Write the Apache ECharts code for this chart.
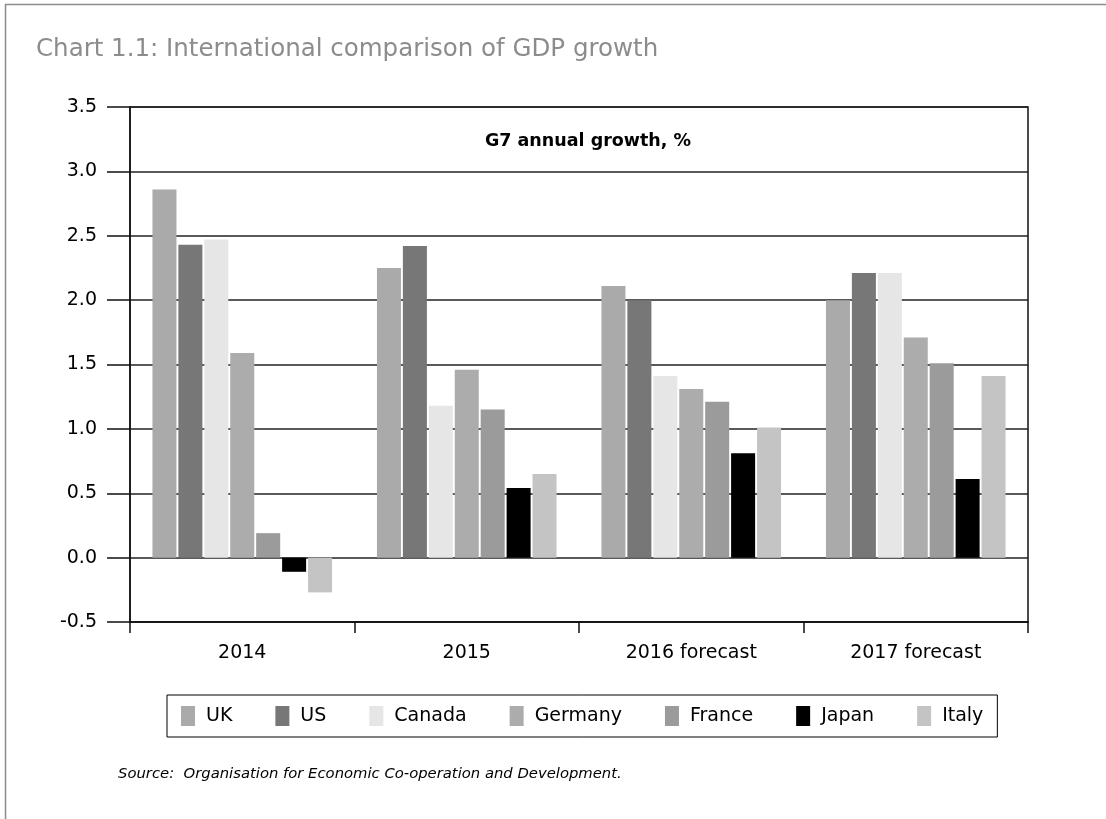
<!DOCTYPE html>
<html>
<head>
<meta charset="utf-8">
<script src="https://cdn.jsdelivr.net/npm/echarts@6/dist/echarts.min.js"></script>
<style>
  html, body { margin: 0; padding: 0; background: #fff; }
  #chart { width: 1106px; height: 819px; }
</style>
</head>
<body>
<div id="chart"></div>
<script>
// Years on the category axis
const categories = ['2014', '2015', '2016 forecast', '2017 forecast'];

// G7 annual GDP growth, %
const uk      = [2.86, 2.25, 2.11, 2.00];
const us      = [2.43, 2.42, 2.00, 2.21];
const canada  = [2.47, 1.18, 1.41, 2.21];
const germany = [1.59, 1.46, 1.31, 1.71];
const france  = [0.19, 1.15, 1.21, 1.51];
const japan   = [-0.11, 0.54, 0.81, 0.61];
const italy   = [-0.27, 0.65, 1.01, 1.41];

const seriesNames = ['UK', 'US', 'Canada', 'Germany', 'France', 'Japan', 'Italy'];
const seriesData = [uk, us, canada, germany, france, japan, italy];
const seriesColors = ['#aaaaaa', '#777777', '#e6e6e6', '#acacac', '#9b9b9b', '#000000', '#c4c4c4'];

const font = '"DejaVu Sans", Verdana, sans-serif';

const chart = echarts.init(document.getElementById('chart'), null, { renderer: 'canvas' });

chart.setOption({
  animation: false,
  backgroundColor: '#ffffff',
  textStyle: { fontFamily: font },
  title: [
    {
      text: 'Chart 1.1: International comparison of GDP growth',
      left: 31, top: 32,
      textStyle: { fontFamily: font, fontSize: 24.5, fontWeight: 'normal', color: '#8c8c8c' }
    },
    {
      text: 'G7 annual growth, %',
      left: 583, top: 127, textAlign: 'center',
      textStyle: { fontFamily: font, fontSize: 17.5, fontWeight: 'bold', color: '#000' }
    },
    {
      text: 'Source:  Organisation for Economic Co-operation and Development.',
      left: 113, top: 762,
      textStyle: { fontFamily: font, fontSize: 14.8, fontWeight: 'normal', fontStyle: 'italic', color: '#000' }
    }
  ],
  graphic: [
    { type: 'line', shape: { x1: 5, y1: 4.5, x2: 1106, y2: 4.5 }, style: { stroke: '#8c8c8c', lineWidth: 1.5 } },
    { type: 'line', shape: { x1: 5.5, y1: 4, x2: 5.5, y2: 819 }, style: { stroke: '#8c8c8c', lineWidth: 1.5 } }
  ],
  legend: {
    data: seriesNames,
    left: 167, top: 695,
    padding: [11, 14, 11, 14],
    borderColor: '#000', borderWidth: 1,
    itemWidth: 14, itemHeight: 20, itemGap: 43,
    icon: 'rect',
    textStyle: { fontFamily: font, fontSize: 19, color: '#000', padding: [0, 0, 0, 6] }
  },
  grid: {
    left: 130, right: 78, top: 107, bottom: 197,
    show: true, borderColor: '#111', borderWidth: 1.5,
    containLabel: false
  },
  xAxis: {
    type: 'category',
    data: categories,
    axisLine: { onZero: false, lineStyle: { color: '#111', width: 1.5 } },
    axisTick: { show: true, length: 11, lineStyle: { color: '#111', width: 1.5 } },
    axisLabel: { margin: 22, fontFamily: font, fontSize: 19, color: '#000' },
    splitLine: { show: false }
  },
  yAxis: {
    type: 'value',
    min: -0.5, max: 3.5, interval: 0.5,
    axisLine: { show: true, lineStyle: { color: '#111', width: 1.5 } },
    axisTick: { show: true, length: 23, lineStyle: { color: '#111', width: 1.5 } },
    axisLabel: {
      margin: 33, fontFamily: font, fontSize: 19, color: '#000',
      formatter: v => v.toFixed(1)
    },
    splitLine: { show: true, lineStyle: { color: '#222', width: 1.5 } }
  },
  series: seriesNames.map((name, i) => ({
    name: name,
    type: 'bar',
    data: seriesData[i],
    barCategoryGap: '20%',
    barGap: '8%',
    itemStyle: { color: seriesColors[i] }
  }))
});
</script>
</body>
</html>
